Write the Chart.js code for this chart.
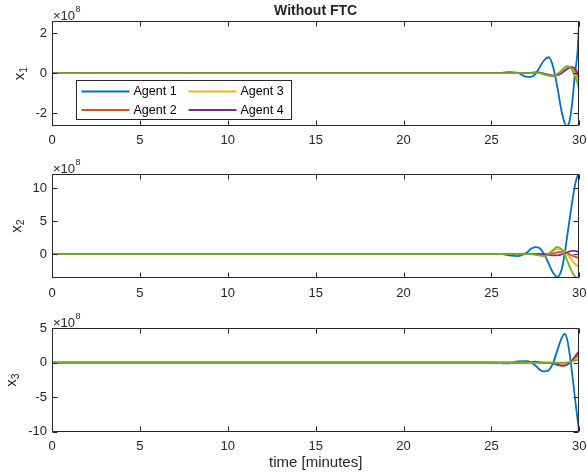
<!DOCTYPE html>
<html>
<head>
<meta charset="utf-8">
<script src="https://cdn.jsdelivr.net/npm/chart.js@4.4.1/dist/chart.umd.min.js"></script>
<style>
body { margin: 0; background: #fff; width: 587px; height: 476px; position: relative; overflow: hidden }
canvas { position: absolute; left: 0 }
</style>
</head>
<body>
<canvas id="c1" width="587" height="150" style="top:0px"></canvas>
<canvas id="c2" width="587" height="150" style="top:150px"></canvas>
<canvas id="c3" width="587" height="176" style="top:300px"></canvas>
<script>
"use strict"

// time in minutes, values in units of 1e8
const time = [0, 24, 25, 25.5, 26, 26.5, 27, 27.25, 27.5, 27.75, 28, 28.25, 28.5, 28.75, 29, 29.15, 29.3, 29.45, 29.6, 29.75, 29.9, 30]
const agentNames = ["Agent 1", "Agent 2", "Agent 3", "Agent 4"]
const xTicks = [0, 5, 10, 15, 20, 25, 30]

const x1_a1 = [0, 0, 0, 0.01, 0.05, 0.02, -0.18, -0.18, -0.05, 0.3, 0.65, 0.8, 0.35, -0.7, -1.95, -2.45, -2.65, -2.4, -1.45, -0.05, 1.1, 2.8]
const x1_a2 = [0, 0, 0, 0, 0, 0, 0, 0.02, 0.03, 0.02, -0.05, -0.1, -0.12, -0.05, 0.1, 0.2, 0.27, 0.3, 0.25, 0.1, -0.15, -0.35]
const x1_a3 = [0, 0, 0, 0, 0, 0, 0, 0.02, 0.03, 0.02, -0.05, -0.1, -0.13, -0.05, 0.12, 0.22, 0.3, 0.32, 0.25, 0.0, -0.3, -0.6]
const x1_a4 = [0, 0, 0, 0, 0, 0, 0, 0.02, 0.04, 0.03, -0.02, -0.08, -0.12, -0.1, 0.0, 0.1, 0.2, 0.27, 0.3, 0.22, 0.02, -0.2]
const x1_a5 = [0, 0, 0, 0, 0, 0, 0, 0.01, 0.02, 0.0, -0.06, -0.12, -0.15, -0.05, 0.15, 0.28, 0.35, 0.32, 0.15, -0.15, -0.5, -0.87]

const x2_a1 = [0, 0, 0, 0.02, -0.2, -0.3, 0.2, 0.8, 1.05, 0.9, 0.0, -1.4, -2.8, -3.45, -2.3, -0.2, 2.5, 5.3, 8.0, 10.4, 11.9, 12.2]
const x2_a2 = [0, 0, 0, 0, 0, 0, 0, 0, 0.02, 0.0, -0.05, 0.0, 0.1, 0.25, 0.35, 0.3, 0.15, -0.05, -0.25, -0.4, -0.55, -0.65]
const x2_a3 = [0, 0, 0, 0, 0, 0, 0, 0, 0.0, -0.05, -0.1, 0.1, 0.5, 0.75, 0.7, 0.4, 0.0, -0.5, -1.0, -1.5, -1.8, -1.9]
const x2_a4 = [0, 0, 0, 0, 0, 0, 0, 0, 0.02, 0.02, 0.0, -0.1, -0.2, -0.2, -0.05, 0.1, 0.25, 0.4, 0.5, 0.5, 0.35, 0.15]
const x2_a5 = [0, 0, 0, 0, 0, 0, 0, 0, -0.1, -0.25, -0.3, -0.1, 0.6, 1.1, 0.7, 0.0, -0.9, -1.9, -2.8, -3.4, -3.7, -3.8]

const x3_a1 = [0, 0, 0, -0.05, -0.1, 0.2, 0.25, 0.05, -0.4, -1.0, -1.25, -1.1, -0.1, 1.8, 3.6, 4.2, 3.5, 1.3, -1.7, -5.0, -8.2, -10]
const x3_a2 = [0, 0, 0, 0, 0, 0, 0, 0, 0.05, 0.05, 0.0, -0.02, -0.05, -0.2, -0.3, -0.3, -0.2, 0.0, 0.3, 0.65, 1.0, 1.3]
const x3_a3 = [0, 0, 0, 0, 0, 0, 0, 0, 0.03, 0.03, 0, 0, -0.03, -0.1, -0.15, -0.15, -0.05, 0.1, 0.3, 0.5, 0.75, 0.95]
const x3_a4 = [0, 0, 0, 0, 0, 0, 0, 0.1, 0.15, 0.05, -0.05, 0, -0.1, -0.3, -0.45, -0.45, -0.3, 0.0, 0.4, 0.9, 1.4, 1.7]
const x3_a5 = [0, 0, 0, 0, 0, 0, 0, 0, 0, 0, 0, 0, 0, 0, 0, 0.02, 0.05, 0.1, 0.2, 0.3, 0.4, 0.5]

const colors = ["#0072BD", "#D95319", "#EDB120", "#7E2F8E", "#77AC30"]
const AXIS = "#262626"
const FONT = "'Liberation Sans', Arial, sans-serif"
const TICK = 5

const matlabAxes = {
    id: "matlabAxes",
    afterDraw(chart, args, o) {
        const ctx = chart.ctx
        const a = chart.chartArea
        const xs = chart.scales.x, ys = chart.scales.y
        ctx.save()
        ctx.strokeStyle = AXIS
        ctx.lineWidth = 1
        const L = Math.round(a.left) + 0.5, R = Math.round(a.right) - 0.5
        const T = Math.round(a.top) + 0.5, B = Math.round(a.bottom) - 0.5
        ctx.beginPath()
        for (const t of xs.ticks) {
            const px = Math.round(xs.getPixelForValue(t.value)) + 0.5
            ctx.moveTo(px, B); ctx.lineTo(px, B - TICK)
            ctx.moveTo(px, T); ctx.lineTo(px, T + TICK)
        }
        for (const t of ys.ticks) {
            const py = Math.round(ys.getPixelForValue(t.value)) + 0.5
            ctx.moveTo(L, py); ctx.lineTo(L + TICK, py)
            ctx.moveTo(R, py); ctx.lineTo(R - TICK, py)
        }
        ctx.rect(L, T, R - L, B - T)
        ctx.stroke()

        ctx.fillStyle = AXIS
        // exponent
        ctx.textAlign = "left"
        ctx.textBaseline = "alphabetic"
        ctx.font = `13px ${FONT}`
        ctx.fillText("×10", a.left + 1, a.top - 1)
        const w = ctx.measureText("×10").width
        ctx.font = `9px ${FONT}`
        ctx.fillText("8", a.left + 1.5 + w, a.top - 9)

        // y label with subscript
        ctx.save()
        ctx.translate(o.ylabelX, (a.top + a.bottom) / 2)
        ctx.rotate(-Math.PI / 2)
        ctx.font = `15px ${FONT}`
        const wx = ctx.measureText("x").width
        ctx.font = `10.5px ${FONT}`
        const ws = ctx.measureText(o.sub).width
        const x0 = -(wx + ws) / 2
        ctx.font = `15px ${FONT}`
        ctx.fillText("x", x0, 0)
        ctx.font = `10.5px ${FONT}`
        ctx.fillText(o.sub, x0 + wx, 3)
        ctx.restore()

        ctx.textAlign = "center"
        if (o.title) {
            ctx.font = `bold 14px ${FONT}`
            ctx.fillText(o.title, (a.left + a.right) / 2, 15)
        }
        if (o.xlabel) {
            ctx.font = `15px ${FONT}`
            ctx.fillText(o.xlabel, (a.left + a.right) / 2, 167)
        }

        if (o.legend) {
            const bx = Math.round(a.left) + 24.5, by = Math.round(a.top) + 59.5
            ctx.fillStyle = "#fff"
            ctx.fillRect(bx, by, 215, 39)
            ctx.strokeStyle = AXIS
            ctx.strokeRect(bx, by, 215, 39)
            ctx.textAlign = "left"
            ctx.textBaseline = "middle"
            ctx.font = `12.5px ${FONT}`
            agentNames.forEach((name, i) => {
                const col = Math.floor(i / 2), row = i % 2
                const lx = bx + 5 + col * 107
                const ly = by + 11 + row * 18.5
                ctx.strokeStyle = colors[i]
                ctx.lineWidth = 2
                ctx.beginPath()
                ctx.moveTo(lx, ly); ctx.lineTo(lx + 48, ly)
                ctx.stroke()
                ctx.fillStyle = "#000"
                ctx.fillText(name, lx + 52, ly + 0.5)
            })
        }
        ctx.restore()
    }
}

function makeChart(id, series, yMin, yMax, yTicks, cfg) {
    const canvas = document.getElementById(id)
    const datasets = series.map((s, i) => ({
        data: time.map((t, k) => ({ x: t, y: s[k] })),
        borderColor: colors[i],
        borderWidth: 1.8,
        pointRadius: 0,
        fill: false,
        cubicInterpolationMode: "monotone",
        order: series.length - i,
    }))
    return new Chart(canvas, {
        type: "line",
        data: { datasets },
        plugins: [matlabAxes],
        options: {
            animation: false,
            responsive: false,
            maintainAspectRatio: false,
            layout: { padding: { top: cfg.top, right: 7.7, left: 0, bottom: 0 } },
            plugins: { legend: { display: false }, tooltip: { enabled: false }, matlabAxes: cfg },
            scales: {
                x: {
                    type: "linear", min: 0, max: 30,
                    grid: { display: false, drawTicks: false }, border: { display: false },
                    ticks: { color: AXIS, font: { family: FONT, size: 13 }, padding: 7, maxRotation: 0 },
                    afterBuildTicks: axis => axis.ticks = xTicks.map(v => ({ value: v })),
                    afterFit: axis => {
                        axis.height = cfg.xh
                        axis.paddingLeft = 0
                        axis.paddingRight = 0
                    },
                },
                y: {
                    type: "linear", min: yMin, max: yMax,
                    grid: { display: false, drawTicks: false }, border: { display: false },
                    ticks: { color: AXIS, font: { family: FONT, size: 13 }, padding: 5 },
                    afterBuildTicks: axis => axis.ticks = yTicks.map(v => ({ value: v })),
                    afterFit: axis => {
                        axis.width = 52
                        axis.paddingTop = 0
                        axis.paddingBottom = 0
                    },
                },
            },
        },
    })
}

makeChart("c1", [x1_a1, x1_a2, x1_a3, x1_a4, x1_a5], -2.65, 2.62, [-2, 0, 2],
    { top: 21, xh: 24, ylabelX: 24, sub: "1", title: "Without FTC", legend: true })
makeChart("c2", [x2_a1, x2_a2, x2_a3, x2_a4, x2_a5], -3.68, 12.17, [0, 5, 10],
    { top: 24, xh: 21.7, ylabelX: 21, sub: "2" })
makeChart("c3", [x3_a1, x3_a2, x3_a3, x3_a4, x3_a5], -10, 5, [-10, -5, 0, 5],
    { top: 28.3, xh: 44.3, ylabelX: 16, sub: "3", xlabel: "time [minutes]" })
</script>
</body>
</html>
